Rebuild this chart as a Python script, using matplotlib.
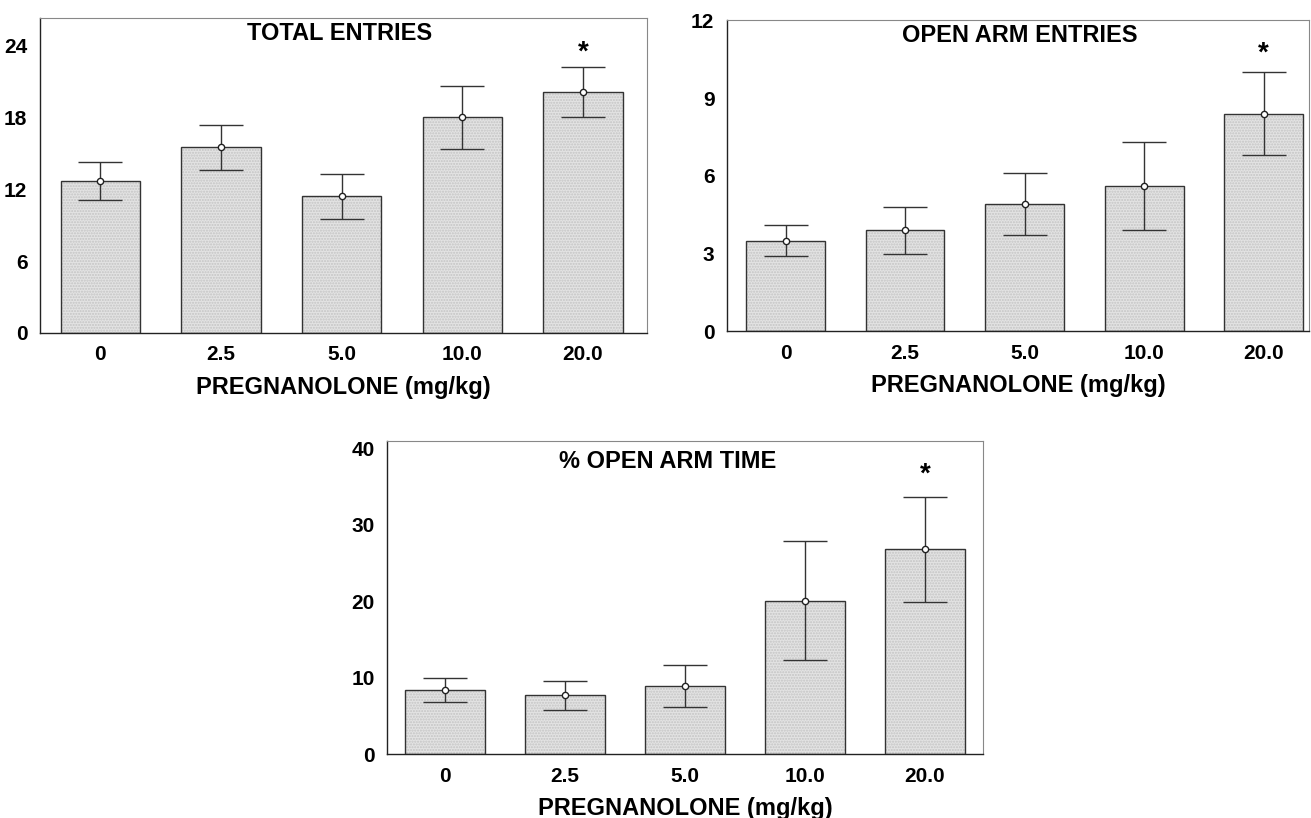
import matplotlib
matplotlib.use("Agg")
import matplotlib.pyplot as plt
from matplotlib import font_manager

# Doses (x categories)
doses = ["0", "2.5", "5.0", "10.0", "20.0"]

# Total entries: means and SEM
total_mean = [12.7, 15.5, 11.4, 18.0, 20.1]
total_sem = [1.6, 1.9, 1.9, 2.6, 2.1]

# Open arm entries: means and SEM
open_mean = [3.5, 3.9, 4.9, 5.6, 8.4]
open_sem = [0.6, 0.9, 1.2, 1.7, 1.6]

# % open arm time: means and SEM
time_mean = [8.4, 7.7, 8.9, 20.1, 26.8]
time_sem = [1.6, 1.9, 2.8, 7.8, 6.9]

titles = ["TOTAL ENTRIES", "OPEN ARM ENTRIES", "% OPEN ARM TIME"]
xlabel = "PREGNANOLONE (mg/kg)"
yticks_list = [[0, 6, 12, 18, 24], [0, 3, 6, 9, 12], [0, 10, 20, 30, 40]]
ylims = [(0, 26.3), (0, 12), (0, 41)]
xlims = [(-0.5, 4.53), (-0.49, 4.38), (-0.483, 4.483)]
star_y = [23.4, 10.73, 36.6]
signif = [False, False, False, False, True]

names = {f.name for f in font_manager.fontManager.ttflist}
family = ["Liberation Sans Narrow"] if "Liberation Sans Narrow" in names else ["Liberation Sans", "DejaVu Sans"]
plt.rcParams["font.family"] = family
plt.rcParams["font.weight"] = "bold"

fig = plt.figure(figsize=(13.11, 8.18), dpi=100)
rects = [
    [0.0305, 0.593, 0.463, 0.385],
    [0.5545, 0.595, 0.444, 0.380],
    [0.2952, 0.0782, 0.4546, 0.3827],
]
datasets = [(total_mean, total_sem), (open_mean, open_sem), (time_mean, time_sem)]
title_pos = [(0.494, 0.952), (0.503, 0.952), (0.471, 0.933)]

for i, (rect, (mean, sem)) in enumerate(zip(rects, datasets)):
    ax = fig.add_axes(rect)
    x = list(range(len(doses)))
    ax.bar(x, mean, width=0.66, color="#e3e3e3", edgecolor="#c4c4c4",
           hatch="......", linewidth=0, zorder=2)
    ax.bar(x, mean, width=0.66, fill=False, edgecolor="#333333",
           linewidth=1.0, zorder=3)
    ax.errorbar(x, mean, yerr=sem, fmt="o", ms=4.5, mfc="white",
                mec="#222222", mew=1.0, ecolor="#333333", elinewidth=1.0,
                capsize=16, capthick=1.0, zorder=4)
    for xi, s in zip(x, signif):
        if s:
            ax.text(xi, star_y[i], "*", ha="center", va="center",
                    fontsize=20, fontweight="bold")
    ax.set_xlim(*xlims[i])
    ax.set_ylim(*ylims[i])
    ax.set_yticks(yticks_list[i])
    ax.set_xticks(x)
    ax.set_xticklabels(doses)
    ax.tick_params(length=0, labelsize=15, pad=9)
    for lab in ax.get_xticklabels() + ax.get_yticklabels():
        lab.set_fontweight("bold")
    ax.set_xlabel(xlabel, fontsize=17, fontweight="bold", labelpad=8)
    ax.text(title_pos[i][0], title_pos[i][1], titles[i], transform=ax.transAxes,
            ha="center", va="center", fontsize=17, fontweight="bold")
    for side in ["top", "right"]:
        ax.spines[side].set_color("#888888")
        ax.spines[side].set_linewidth(0.8)
    for side in ["left", "bottom"]:
        ax.spines[side].set_color("#222222")
        ax.spines[side].set_linewidth(1.0)

fig.savefig("out.png", dpi=100)
